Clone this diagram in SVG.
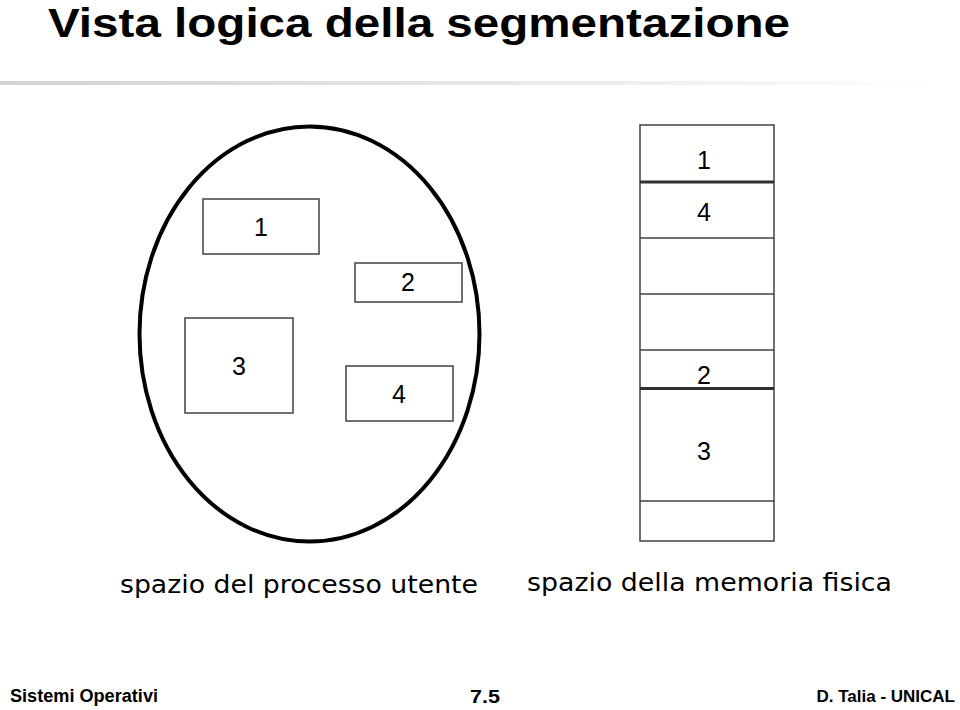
<svg xmlns="http://www.w3.org/2000/svg" width="960" height="710" viewBox="0 0 960 710">
<defs>
<linearGradient id="rule" x1="0" y1="0" x2="1" y2="0">
<stop offset="0" stop-color="#d2d2d2"/>
<stop offset="0.5" stop-color="#e6e6e6"/>
<stop offset="1" stop-color="#ffffff"/>
</linearGradient>
<style>
.title{font-family:"Liberation Sans",Arial,sans-serif;font-weight:bold;font-size:41px;fill:#000}
.foot{font-family:"Liberation Sans",Arial,sans-serif;font-weight:bold;font-size:18px;fill:#000}
.cap{font-family:"DejaVu Sans",Verdana,sans-serif;font-size:25px;fill:#000}
.num{font-family:"Liberation Sans",Arial,sans-serif;font-size:25px;fill:#000;text-anchor:middle}
.seg{fill:#fff;stroke:#404040;stroke-width:1.5}
.div{stroke:#404040;stroke-width:1.5}
.thick{stroke:#303030;stroke-width:3}
</style>
</defs>
<rect width="960" height="710" fill="#fff"/>
<text class="title" x="48" y="37" textLength="742" lengthAdjust="spacingAndGlyphs">Vista logica della segmentazione</text>
<rect x="0" y="81" width="950" height="4" fill="url(#rule)"/>

<g id="process-space">
<ellipse cx="309.5" cy="334" rx="170" ry="207.5" fill="#fff" stroke="#000" stroke-width="4"/>
</g>
<g id="seg1"><rect class="seg" x="203" y="199" width="116" height="55"/><text class="num" x="261" y="236">1</text></g>
<g id="seg2"><rect class="seg" x="355" y="263" width="107" height="39"/><text class="num" x="408" y="291">2</text></g>
<g id="seg3"><rect class="seg" x="185" y="318" width="108" height="95"/><text class="num" x="239" y="375">3</text></g>
<g id="seg4"><rect class="seg" x="346" y="366" width="107" height="55"/><text class="num" x="399" y="403">4</text></g>

<g id="physical-memory">
<rect class="seg" x="640" y="125" width="134" height="416"/>
<line class="thick" x1="640" y1="182" x2="774" y2="182"/>
<line class="div" x1="640" y1="238" x2="774" y2="238"/>
<line class="div" x1="640" y1="294" x2="774" y2="294"/>
<line class="div" x1="640" y1="350" x2="774" y2="350"/>
<line class="thick" x1="640" y1="388.5" x2="774" y2="388.5"/>
<line class="div" x1="640" y1="501" x2="774" y2="501"/>
<text class="num" x="704" y="169">1</text>
<text class="num" x="704" y="221">4</text>
<text class="num" x="704" y="384">2</text>
<text class="num" x="704" y="460">3</text>
</g>

<text class="cap" x="120" y="593" textLength="358" lengthAdjust="spacingAndGlyphs">spazio del processo utente</text>
<text class="cap" x="527" y="591" textLength="365" lengthAdjust="spacingAndGlyphs">spazio della memoria fisica</text>

<text class="foot" x="10" y="702" textLength="148" lengthAdjust="spacingAndGlyphs">Sistemi Operativi</text>
<text class="foot" x="470" y="703" textLength="30" lengthAdjust="spacingAndGlyphs">7.5</text>
<text class="foot" x="955" y="702" text-anchor="end" style="font-size:17px">D. Talia - UNICAL</text>
</svg>
